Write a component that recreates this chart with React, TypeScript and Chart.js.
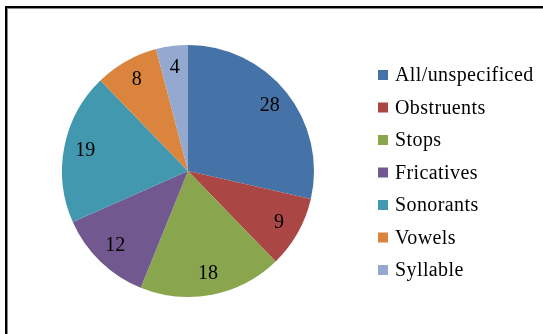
import React, { useEffect, useRef } from "react";
import { Chart, registerables } from "chart.js";

Chart.register(...registerables);

const categories = [
  "All/unspecificed",
  "Obstruents",
  "Stops",
  "Fricatives",
  "Sonorants",
  "Vowels",
  "Syllable",
];
const counts = [28, 9, 18, 12, 19, 8, 4];
const colors = ["#4572A7", "#AA4643", "#89A54E", "#71588F", "#4198AF", "#DB843D", "#93A9CF"];

const FONT = '"Liberation Serif", "Times New Roman", serif';

const labelPlugin = {
  id: "sliceLabels",
  afterDatasetsDraw(chart: any) {
    const ctx = chart.ctx;
    const meta = chart.getDatasetMeta(0);
    ctx.save();
    ctx.font = `20px ${FONT}`;
    ctx.fillStyle = "#000";
    ctx.textAlign = "center";
    ctx.textBaseline = "middle";
    meta.data.forEach((arc: any, i: number) => {
      const p = arc.getProps(["x", "y", "startAngle", "endAngle", "outerRadius"], true);
      const mid = (p.startAngle + p.endAngle) / 2;
      const r = p.outerRadius * 0.83;
      ctx.fillText(String(chart.data.datasets[0].data[i]), p.x + Math.cos(mid) * r, p.y + Math.sin(mid) * r);
    });
    ctx.restore();
  },
};

const legendPlugin = {
  id: "sideLegend",
  afterDraw(chart: any) {
    const ctx = chart.ctx;
    const labels = chart.data.labels as string[];
    const bg = chart.data.datasets[0].backgroundColor as string[];
    ctx.save();
    ctx.font = `20px ${FONT}`;
    ctx.textBaseline = "middle";
    ctx.textAlign = "left";
    try {
      (ctx as any).letterSpacing = "0.4px";
    } catch (e) {}
    labels.forEach((lab, i) => {
      const cy = 75 + i * 32.5;
      ctx.fillStyle = bg[i];
      ctx.fillRect(378, cy - 5, 10, 10);
      ctx.fillStyle = "#000";
      ctx.fillText(lab, 395, cy + 1);
    });
    ctx.restore();
  },
};

export default function App() {
  const ref = useRef<HTMLCanvasElement>(null);
  useEffect(() => {
    if (!ref.current) return;
    const chart = new Chart(ref.current, {
      type: "pie",
      data: {
        labels: categories,
        datasets: [
          {
            data: counts,
            backgroundColor: colors,
            borderWidth: 0,
          },
        ],
      },
      options: {
        animation: false,
        responsive: false,
        maintainAspectRatio: false,
        layout: { padding: { left: 62, right: 229, top: 45, bottom: 37 } },
        plugins: {
          legend: { display: false },
          tooltip: { enabled: false },
        },
      },
      plugins: [labelPlugin, legendPlugin],
    });
    return () => chart.destroy();
  }, []);

  return (
    <div style={{ position: "fixed", left: 0, top: 0, width: 543, height: 334, background: "#fff", overflow: "hidden" }}>
      <div
        style={{
          position: "absolute",
          left: 5,
          top: 6,
          width: 600,
          height: 400,
          borderLeft: "2px solid #000",
          borderTop: "2px solid #000",
        }}
      >
        <div
          style={{
            position: "absolute",
            left: 0,
            top: 0,
            right: 0,
            bottom: 0,
            borderLeft: "1px solid #8a8a8a",
            borderTop: "1px solid #8a8a8a",
          }}
        />
      </div>
      <canvas ref={ref} width={543} height={334} style={{ position: "absolute", left: 0, top: 0 }} />
    </div>
  );
}
